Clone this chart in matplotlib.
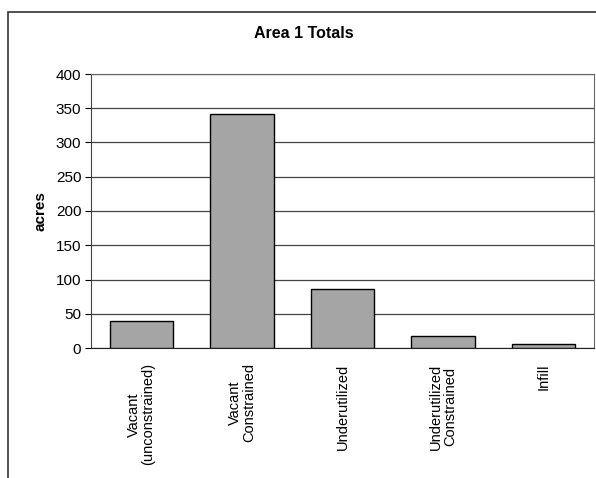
import matplotlib.pyplot as plt
from matplotlib.patches import Rectangle

# data
categories = ['Vacant\n(unconstrained)', 'Vacant\nConstrained', 'Underutilized',
              'Underutilized\nConstrained', 'Infill']
acres = [39, 342, 86, 17, 6]
yticks = [0, 50, 100, 150, 200, 250, 300, 350, 400]

plt.rcParams['font.family'] = ['Liberation Sans', 'DejaVu Sans']

fig = plt.figure(figsize=(5.96, 4.78), dpi=100)
ax = fig.add_axes([91 / 596, 1 - 348 / 478, 503 / 596, 274 / 478])

# outer chart frame
fig.patches.append(Rectangle((8 / 596, -0.01), 1.0, 1 - 12 / 478 + 0.01,
                             transform=fig.transFigure, fill=False,
                             edgecolor='#333333', linewidth=1.2))

x = range(len(categories))
ax.bar(x, acres, width=0.63, color='#a5a5a5', edgecolor='black', linewidth=1.0, zorder=3)

ax.set_ylim(0, 400)
ax.set_xlim(-0.5, len(categories) - 0.5)
ax.set_yticks(yticks)
ax.yaxis.grid(True, color='#444444', linewidth=0.9, zorder=0)
ax.set_axisbelow(True)

ax.set_xticks(list(x))
ax.set_xticklabels(categories, rotation=90, ha='center', va='top',
                   multialignment='center', fontsize=10.5, linespacing=1.0)
ax.tick_params(axis='x', length=0, pad=11)
ax.tick_params(axis='y', length=4, labelsize=11, pad=3, direction='out')

for s in ['top', 'right']:
    ax.spines[s].set_color('#666666')
ax.spines['left'].set_color('#444444')
ax.spines['bottom'].set_color('#222222')

ax.set_ylabel('acres', fontsize=11, fontweight='bold', labelpad=6)
fig.text(0.51, 1 - 33 / 478, 'Area 1 Totals', ha='center', va='center',
         fontsize=11.5, fontweight='bold')

fig.savefig('out.png', dpi=100)
